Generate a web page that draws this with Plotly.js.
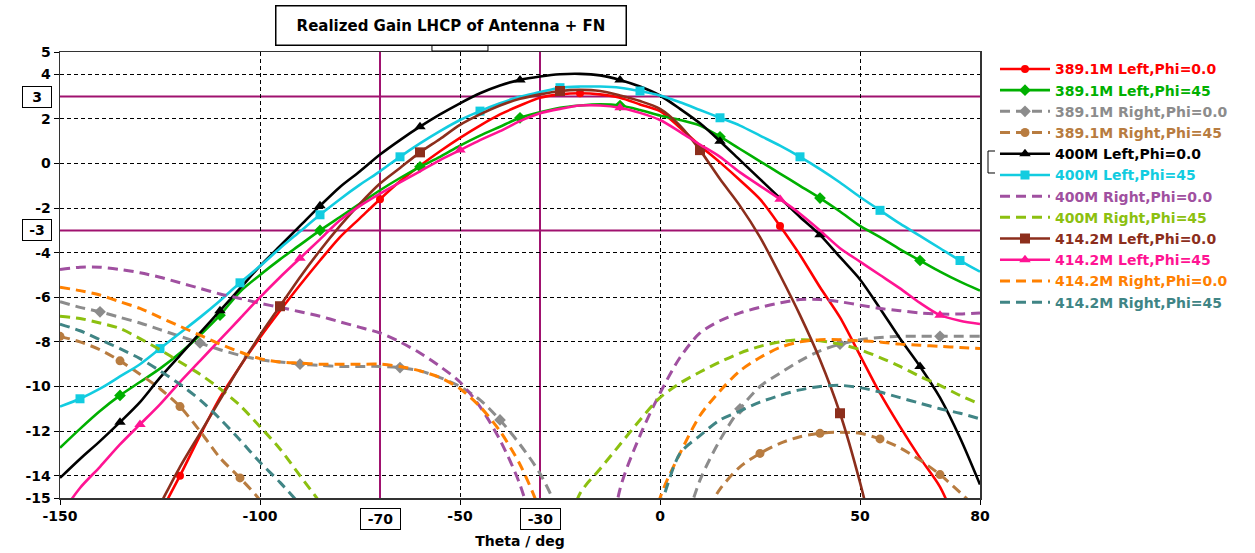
<!DOCTYPE html>
<html><head><meta charset="utf-8">
<script src="https://cdn.plot.ly/plotly-3.0.1.min.js"></script>
<style>html,body{margin:0;padding:0;background:#fff;}#chart{width:1255px;height:553px;}</style>
</head><body><div id="chart"></div>
<script>
// ---- data ----
const theta = [-150,-145,-140,-135,-130,-125,-120,-115,-110,-105,-100,-95,-90,-85,-80,-75,-70,-65,-60,-55,-50,-45,-40,-35,-30,-25,-20,-15,-10,-5,0,5,10,15,20,25,30,35,40,45,50,55,60,65,70,75,80];

const red389L0 = [-24,-22.5,-21,-19.2,-17.4,-15.7,-14.0,-12.2,-10.5,-9.1,-7.8,-6.6,-5.45,-4.35,-3.3,-2.45,-1.6,-0.8,-0.1,0.55,1.15,1.7,2.2,2.6,2.95,3.1,3.15,3.1,2.95,2.65,2.35,1.6,0.8,0.05,-0.75,-1.6,-2.8,-4.1,-5.55,-6.9,-8.6,-10.3,-11.8,-13.2,-14.5,-16.5,-18.5];
const green389L45 = [-12.75,-11.9,-11.1,-10.4,-9.8,-9.2,-8.5,-7.7,-6.8,-5.75,-5.0,-4.3,-3.65,-3.0,-2.4,-1.8,-1.2,-0.65,-0.15,0.3,0.8,1.25,1.65,2.05,2.3,2.5,2.6,2.65,2.6,2.4,2.15,1.95,1.7,1.2,0.65,0.1,-0.45,-1.0,-1.55,-2.15,-2.8,-3.3,-3.85,-4.35,-4.85,-5.3,-5.7];
const gray389R0 = [-6.2,-6.45,-6.65,-6.9,-7.15,-7.45,-7.75,-8.05,-8.35,-8.6,-8.8,-8.9,-9.0,-9.05,-9.1,-9.1,-9.1,-9.15,-9.3,-9.6,-10.0,-10.6,-11.5,-12.6,-13.9,-15.8,-19,-23,-26,-24,-20,-17,-14.2,-12.4,-11.0,-10.0,-9.4,-8.85,-8.4,-8.1,-7.9,-7.8,-7.75,-7.75,-7.75,-7.75,-7.75];
const tan389R45 = [-7.75,-8.0,-8.35,-8.85,-9.45,-10.1,-10.9,-12.0,-13.2,-14.1,-15.1,-16.5,-18,-19.5,-21,-22,-23,-24,-25,-26,-27,-28,-28,-28,-27,-26,-25,-24,-22,-20.5,-19,-17.5,-16.1,-14.6,-13.6,-13.0,-12.55,-12.25,-12.1,-12.05,-12.1,-12.35,-12.75,-13.3,-13.95,-14.75,-15.6];
const black400L0 = [-14.1,-13.25,-12.45,-11.6,-10.7,-9.6,-8.6,-7.6,-6.6,-5.6,-4.6,-3.7,-2.8,-1.9,-1.05,-0.35,0.4,1.05,1.65,2.2,2.7,3.15,3.5,3.75,3.9,4.0,4.02,3.95,3.75,3.45,3.05,2.45,1.8,1.0,0.15,-0.7,-1.55,-2.4,-3.2,-4.2,-5.2,-6.5,-7.85,-9.1,-10.5,-12.3,-14.4];
const cyan400L45 = [-10.9,-10.55,-10.1,-9.55,-9.0,-8.3,-7.6,-6.9,-6.15,-5.35,-4.6,-3.8,-3.05,-2.3,-1.6,-0.95,-0.35,0.3,0.9,1.45,1.95,2.35,2.7,3.0,3.2,3.4,3.45,3.45,3.4,3.25,3.05,2.75,2.4,2.05,1.7,1.25,0.8,0.3,-0.25,-0.85,-1.5,-2.1,-2.7,-3.25,-3.8,-4.35,-4.85];
const purple400R0 = [-4.75,-4.65,-4.65,-4.75,-4.9,-5.1,-5.35,-5.6,-5.85,-6.05,-6.27,-6.45,-6.65,-6.85,-7.1,-7.35,-7.6,-8.0,-8.5,-9.1,-9.8,-10.9,-12.4,-14.4,-17.5,-21,-23,-20,-14.6,-12.2,-10.3,-8.7,-7.6,-7.05,-6.7,-6.45,-6.25,-6.1,-6.1,-6.2,-6.35,-6.5,-6.6,-6.7,-6.75,-6.75,-6.7];
const lime400R45 = [-6.85,-6.95,-7.15,-7.4,-7.85,-8.35,-8.9,-9.45,-10.1,-10.85,-11.8,-12.8,-14.0,-15.2,-16.5,-18,-19.5,-21,-22.5,-24,-25,-26,-26,-24,-21,-17.5,-14.8,-13.7,-12.6,-11.5,-10.5,-9.85,-9.35,-8.9,-8.5,-8.2,-8.0,-7.9,-7.95,-8.1,-8.35,-8.7,-9.1,-9.55,-9.95,-10.4,-10.8];
const brown414L0 = [-24,-22.3,-20.5,-18.7,-17.0,-15.3,-13.6,-12.1,-10.6,-9.1,-7.7,-6.4,-5.1,-3.9,-2.8,-1.8,-0.9,-0.2,0.5,1.1,1.73,2.2,2.6,2.9,3.1,3.25,3.3,3.25,3.05,2.8,2.45,1.7,0.6,-0.7,-1.9,-3.3,-5.0,-6.8,-8.8,-11.2,-14.3,-18,-22,-26,-30,-34,-38];
const pink414L45 = [-15.8,-14.55,-13.6,-12.6,-11.7,-10.8,-9.8,-8.85,-7.9,-6.95,-6.0,-5.1,-4.25,-3.4,-2.55,-1.9,-1.35,-0.85,-0.35,0.15,0.6,1.05,1.45,1.9,2.25,2.45,2.6,2.6,2.5,2.27,1.95,1.42,0.85,0.3,-0.4,-1.0,-1.6,-2.25,-3.0,-3.8,-4.4,-5.0,-5.6,-6.25,-6.8,-7.05,-7.2];
const orange414R0 = [-5.55,-5.7,-5.9,-6.2,-6.5,-6.9,-7.3,-7.7,-8.1,-8.45,-8.75,-8.9,-8.95,-9.0,-9.0,-9.0,-9.0,-9.1,-9.3,-9.6,-10.1,-10.9,-12.0,-13.5,-15.6,-19,-23,-26,-24,-19,-15.0,-13.0,-11.3,-10.2,-9.3,-8.7,-8.25,-8.0,-7.9,-7.9,-7.95,-8.0,-8.1,-8.15,-8.2,-8.25,-8.3];
const teal414R45 = [-7.2,-7.5,-7.9,-8.3,-8.75,-9.3,-9.9,-10.6,-11.45,-12.4,-13.4,-14.3,-15.3,-16.5,-18,-19.5,-21,-22.5,-24,-25,-26,-27,-27,-27,-26,-25,-23,-21,-19.5,-17.5,-15.4,-13.0,-12.2,-11.5,-11.1,-10.7,-10.4,-10.15,-10.0,-9.95,-10.05,-10.25,-10.5,-10.75,-11.0,-11.2,-11.45];

const seriesNames = ['389.1M Left,Phi=0.0','389.1M Left,Phi=45','389.1M Right,Phi=0.0','389.1M Right,Phi=45',
  '400M Left,Phi=0.0','400M Left,Phi=45','400M Right,Phi=0.0','400M Right,Phi=45',
  '414.2M Left,Phi=0.0','414.2M Left,Phi=45','414.2M Right,Phi=0.0','414.2M Right,Phi=45'];
const seriesValues = [red389L0, green389L45, gray389R0, tan389R45, black400L0, cyan400L45, purple400R0, lime400R45, brown414L0, pink414L45, orange414R0, teal414R45];

const xTickVals = [-150,-100,-70,-50,-30,0,50,80];
const xTickText = ['-150','-100','-70','-50','-30','0','50','80'];
const yTickVals = [5,4,3,2,0,-2,-3,-4,-6,-8,-10,-12,-14,-15];
const yTickText = ['5','4','3','2','0','-2','-3','-4','-6','-8','-10','-12','-14','-15'];
const boxedX = [-70,-30];
const boxedY = [3,-3];
const titleText = 'Realized Gain LHCP of Antenna + FN';
const xTitle = 'Theta / deg';

// ---- styles ----
const styles = [
  {color:'#ff0000', dash:'solid', symbol:'circle', size:8, maxd:4},
  {color:'#00b000', dash:'solid', symbol:'diamond', size:9, maxd:10},
  {color:'#8c8c8c', dash:'10px,6px', symbol:'diamond', size:9, maxd:8},
  {color:'#b87c40', dash:'10px,6px', symbol:'circle', size:9, maxd:9},
  {color:'#000000', dash:'solid', symbol:'triangle-up', size:10, maxd:10},
  {color:'#12cce0', dash:'solid', symbol:'square', size:9, maxd:12},
  {color:'#a050a0', dash:'10px,6px', symbol:null},
  {color:'#8cc010', dash:'10px,6px', symbol:null},
  {color:'#8c2e1c', dash:'solid', symbol:'square', size:10, maxd:5},
  {color:'#ff1493', dash:'solid', symbol:'triangle-up', size:10, maxd:6},
  {color:'#ff8000', dash:'10px,6px', symbol:null},
  {color:'#408585', dash:'10px,6px', symbol:null}
];

const traces = seriesValues.map((vals, i) => {
  const s = styles[i];
  const t = {
    type:'scatter', x:theta, y:vals,
    name:'<span style="color:' + s.color + '"><b>' + seriesNames[i] + '</b></span>',
    mode: s.symbol ? 'lines+markers' : 'lines',
    line:{color:s.color, width: s.dash === 'solid' ? 2.6 : 3, dash:s.dash, shape:'spline', smoothing:0.8},
    hoverinfo:'skip'
  };
  if (s.symbol) t.marker = {symbol:s.symbol, size:s.size, color:s.color, maxdisplayed:s.maxd};
  return t;
});

const purple = '#a0126f';
const shapes = [];
boxedX.forEach(v => shapes.push({type:'line', xref:'x', yref:'paper', x0:v, x1:v, y0:0, y1:1, line:{color:purple, width:2}, layer:'between'}));
boxedY.forEach(v => shapes.push({type:'line', xref:'paper', yref:'y', x0:0, x1:1, y0:v, y1:v, line:{color:purple, width:2}, layer:'between'}));
// small tab under the title box and a partly hidden box behind the legend
shapes.push({type:'rect', xref:'paper', yref:'paper', x0:0.4043, x1:0.4652, y0:1.0022, y1:1.0157, line:{color:'#000', width:1}, fillcolor:'#fff', layer:'above'});
shapes.push({type:'rect', xref:'paper', yref:'paper', x0:1.0087, x1:1.038, y0:0.7287, y1:0.778, line:{color:'#000', width:1}, fillcolor:'#fff', layer:'above'});

const annotations = [];
annotations.push({xref:'paper', yref:'paper', x:0.4255, y:1.0605, xanchor:'center', yanchor:'middle', showarrow:false,
  text:'<b>' + titleText + '</b>', font:{size:15, color:'#000'}, bordercolor:'#000', borderwidth:1.5, borderpad:2,
  bgcolor:'#fff', width:345, height:34});
boxedY.forEach(v => annotations.push({xref:'paper', yref:'y', x:-0.0245, y:v, xanchor:'center', yanchor:'middle', showarrow:false,
  text:'<b>' + v + '</b>', font:{size:14, color:'#000'}, bordercolor:'#000', borderwidth:1, borderpad:1, bgcolor:'#fff', width:26, height:18}));
boxedX.forEach(v => annotations.push({xref:'x', yref:'paper', x:v, y:-0.0471, xanchor:'center', yanchor:'middle', showarrow:false,
  text:'<b>' + v + '</b>', font:{size:14, color:'#000'}, bordercolor:'#000', borderwidth:1, borderpad:1, bgcolor:'#fff', width:37, height:18}));

// boxed ticks are drawn as annotations, so leave them out of the axis ticks
const xKeep = xTickVals.map(v => !boxedX.includes(v));
const yKeep = yTickVals.map(v => !boxedY.includes(v));
const xVals = xTickVals.filter((v, i) => xKeep[i]);
const xText = xTickText.filter((t, i) => xKeep[i]).map(t => '<b>' + t + '</b>');
const yVals = yTickVals.filter((v, i) => yKeep[i]);
const yText = yTickText.filter((t, i) => yKeep[i]).map(t => '<b>' + t + '</b>');

const axisCommon = {
  ticks:'outside', ticklen:5, tickcolor:'#000', tickwidth:1,
  showline:true, mirror:true, linecolor:'#333', linewidth:1.5,
  showgrid:true, gridcolor:'#000', gridwidth:1, griddash:'4px,3px',
  zeroline:false, tickfont:{size:14, color:'#000'}, fixedrange:true
};

const layout = {
  width:1255, height:553,
  margin:{l:60, r:275, t:52, b:55},
  paper_bgcolor:'#fff', plot_bgcolor:'#fff',
  font:{family:'DejaVu Sans, Verdana, sans-serif', size:14, color:'#000'},
  xaxis: Object.assign({}, axisCommon, {range:[-150,80], tickmode:'array', tickvals:xVals, ticktext:xText,
    title:{text:'<b>' + xTitle + '</b>', font:{size:14, color:'#000'}, standoff:13}}),
  yaxis: Object.assign({}, axisCommon, {range:[-15,5], tickmode:'array', tickvals:yVals, ticktext:yText}),
  showlegend:true,
  legend:{x:1.0163, y:0.997, xanchor:'left', yanchor:'top', bgcolor:'#fff', borderwidth:0,
    font:{size:14, color:'#000'}, itemwidth:50},
  shapes:shapes, annotations:annotations
};

Plotly.newPlot('chart', traces, layout, {displayModeBar:false, staticPlot:true});
</script>
</body></html>
